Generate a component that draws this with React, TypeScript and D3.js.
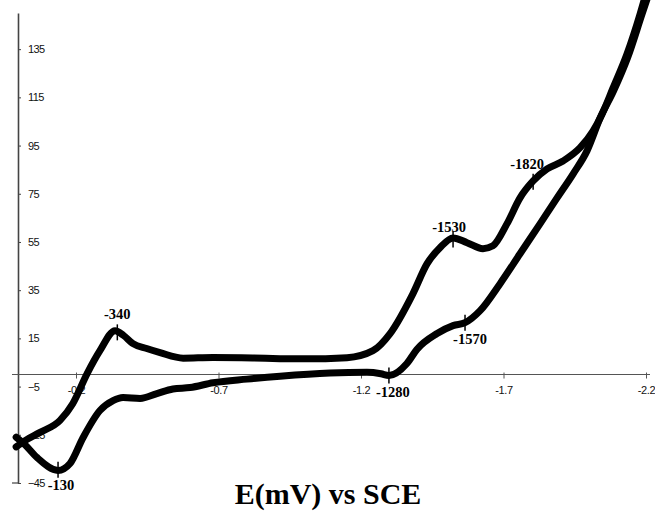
import { useRef, useEffect } from "react";
import * as d3 from "d3";

// potential (V vs SCE), current
const upperBranch: [number, number][] = [
  [0.01, -30], [-0.02, -27.5], [-0.074, -24], [-0.144, -19], [-0.189, -12], [-0.239, 0.4],
  [-0.284, 9.9], [-0.337, 18.2], [-0.367, 16.2], [-0.4, 12.8], [-0.448, 10.8], [-0.495, 9.1],
  [-0.576, 6.8], [-0.68, 7.1], [-0.82, 6.9], [-0.916, 6.6], [-1.0, 6.5], [-1.151, 7.0], [-1.242, 9.9],
  [-1.302, 17.0], [-1.382, 33.5], [-1.432, 46.0], [-1.477, 52.6], [-1.523, 56.7],
  [-1.572, 54.7], [-1.628, 52.2], [-1.663, 53.4], [-1.712, 62.5], [-1.758, 73.3],
  [-1.804, 80.3], [-1.853, 85.3], [-1.909, 88.6], [-1.968, 94.0], [-2.014, 101.0],
  [-2.046, 108.1], [-2.084, 118.8], [-2.133, 132.9], [-2.179, 149.5], [-2.195, 156],
];

const lowerBranch: [number, number][] = [
  [0.01, -26], [-0.02, -29], [-0.063, -34.4], [-0.137, -39.8], [-0.179, -36.9], [-0.225, -26.1],
  [-0.284, -14.9], [-0.33, -10.8], [-0.365, -9.5], [-0.425, -9.9], [-0.484, -7.9],
  [-0.54, -6.0], [-0.6, -5.4], [-0.681, -3.4], [-0.8, -1.9], [-0.916, -0.7], [-1.091, 0.6],
  [-1.221, 0.9], [-1.27, 0.3], [-1.298, -0.4], [-1.361, 4.6], [-1.396, 10.4], [-1.467, 17.0],
  [-1.523, 20.3], [-1.565, 21.5], [-1.618, 26.5], [-1.688, 37.7], [-1.758, 50.1],
  [-1.828, 62.5], [-1.888, 73.3], [-1.944, 83.2], [-1.993, 92.8], [-2.039, 106.4],
  [-2.086, 117.6], [-2.135, 131.3], [-2.186, 149.5], [-2.21, 158],
];

const xTicks = [-0.2, -0.7, -1.2, -1.7, -2.2];
const yTicks = [-45, -25, -5, 15, 35, 55, 75, 95, 115, 135];

// peak markers: label, potential, current at marker, label offset
const peakNames = ["-340", "-130", "-1280", "-1530", "-1570", "-1820"];
const peakE = [-0.345, -0.137, -1.298, -1.523, -1.565, -1.804];
const peakI = [17.5, -39.5, -0.4, 56, 21.5, 80];
const peakLabelDx = [0, 3, 4, -4, 5, -6];
const peakLabelDy = [-13, 20, 21, -8, 21, -13];

export default function App() {
  const svgRef = useRef(null);
  const width = 655;
  const height = 512;

  useEffect(() => {
    const svg = d3.select(svgRef.current);
    svg.selectAll("*").remove();

    const x = d3.scaleLinear().domain([0, -2.2]).range([19, 646]);
    const y = d3.scaleLinear().domain([-45, 150]).range([483, 13]);

    // y axis (labels to the right of the axis)
    const yAx = svg.append("g")
      .attr("transform", `translate(18,0)`)
      .call(d3.axisRight(y).tickValues(yTicks).tickSize(3).tickSizeOuter(0).tickPadding(7));
    yAx.select(".domain").attr("stroke", "#444").attr("stroke-width", 1.6);
    yAx.selectAll(".tick line").attr("stroke", "#444");
    yAx.selectAll("text")
      .attr("font-family", "Liberation Sans, Arial, sans-serif")
      .attr("font-size", 11)
      .attr("letter-spacing", -0.6)
      .attr("fill", "#111");
    // small outer tick at the bottom
    svg.append("line")
      .attr("x1", 12).attr("x2", 18)
      .attr("y1", y(-45)).attr("y2", y(-45))
      .attr("stroke", "#444").attr("stroke-width", 1.2);

    // x axis sits at current = 0
    svg.append("line")
      .attr("x1", 12).attr("x2", 650)
      .attr("y1", y(0)).attr("y2", y(0))
      .attr("stroke", "#555").attr("stroke-width", 1.1);
    const xAx = svg.append("g")
      .attr("transform", `translate(0,${y(0)})`)
      .call(d3.axisBottom(x).tickValues(xTicks).tickSize(4).tickSizeOuter(0).tickPadding(8));
    xAx.select(".domain").remove();
    xAx.selectAll(".tick line").attr("stroke", "#555").attr("y1", -2);
    xAx.selectAll("text")
      .attr("font-family", "Liberation Sans, Arial, sans-serif")
      .attr("font-size", 11)
      .attr("letter-spacing", -0.4)
      .attr("fill", "#111")
      .text((d: any) => d3.format(".1f")(d).replace("−", "-"));

    // the voltammogram
    const line = d3.line<[number, number]>()
      .x(d => x(d[0]))
      .y(d => y(d[1]))
      .curve(d3.curveMonotoneX);

    svg.append("g").selectAll("path")
      .data([upperBranch, lowerBranch])
      .join("path")
      .attr("d", d => line(d))
      .attr("fill", "none")
      .attr("stroke", "#000")
      .attr("stroke-width", 7)
      .attr("stroke-linejoin", "round")
      .attr("stroke-linecap", "round");

    // peak markers
    const peaks = peakNames.map((n, i) => ({ n, e: peakE[i], c: peakI[i], dx: peakLabelDx[i], dy: peakLabelDy[i] }));
    const pk = svg.append("g");
    pk.selectAll("line")
      .data(peaks)
      .join("line")
      .attr("x1", d => x(d.e)).attr("x2", d => x(d.e))
      .attr("y1", d => y(d.c) - 8).attr("y2", d => y(d.c) + 8)
      .attr("stroke", "#000").attr("stroke-width", 1.5);
    pk.selectAll("text")
      .data(peaks)
      .join("text")
      .attr("x", d => x(d.e) + d.dx)
      .attr("y", d => y(d.c) + d.dy)
      .attr("text-anchor", "middle")
      .attr("font-family", "Liberation Serif, Times New Roman, serif")
      .attr("font-weight", "bold")
      .attr("font-size", 14.5)
      .attr("fill", "#000")
      .text(d => d.n);

    svg.append("text")
      .attr("x", 328)
      .attr("y", 504)
      .attr("text-anchor", "middle")
      .attr("font-family", "Liberation Serif, Times New Roman, serif")
      .attr("font-weight", "bold")
      .attr("font-size", 30)
      .attr("fill", "#000")
      .text("E(mV) vs SCE");
  }, []);

  return (
    <svg ref={svgRef} width={width} height={height} viewBox={`0 0 ${width} ${height}`}
      style={{ position: "absolute", left: 0, top: 0, background: "#fff" }}>
    </svg>
  );
}
